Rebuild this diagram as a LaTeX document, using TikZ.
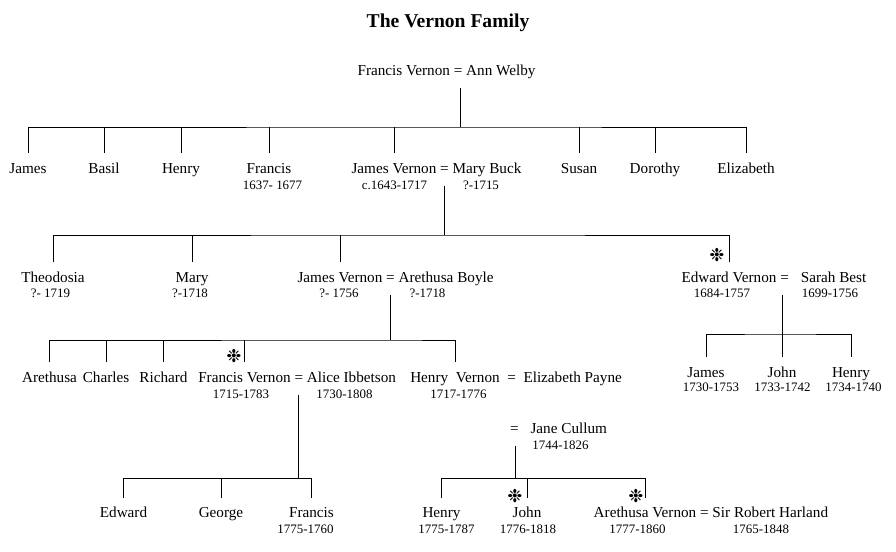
\documentclass[tikz,border=0pt]{standalone}
\usepackage{fontspec}
\setmainfont{Liberation Serif}
\newfontfamily\symfont{DejaVu Sans}
\usepackage{tikz}
\usetikzlibrary{positioning}

\begin{document}
\begin{tikzpicture}[
x=0.75pt,y=-0.75pt,
person/.style={font=\fontsize{11.4}{13}\selectfont,inner sep=0pt,outer xsep=0pt,outer ysep=7.5pt,text height=7.5pt,text depth=2pt,anchor=base},
spouse/.style={person,anchor=base west},
date/.style={font=\fontsize{9.7}{11}\selectfont,inner sep=0pt,anchor=base},
starmark/.style={font=\symfont\fontsize{13.5}{13.5}\selectfont,inner sep=0pt},
line/.style={line width=0.75pt}
]
\fill[white] (0,0) rectangle (896,551);
\useasboundingbox (0,0) rectangle (896,551);

\node[font=\bfseries\fontsize{14.7}{17}\selectfont,anchor=base] (title) at (448,27) {The Vernon Family};

% first generation
\node[person] (root) at (446.5,75) {Francis Vernon = Ann Welby};

% their children
\node[person] (james1) at (28,173) {James};
\node[person] (basil1) at (104,173) {Basil};
\node[person] (henry1) at (181,173) {Henry};
\node[person] (francis1) at (269,173) {Francis};
\node[person] (jv1) at (394,173) {James Vernon};
\node[person,right=0pt of jv1] (mb1) {\ = Mary Buck};
\node[person] (susan1) at (579,173) {Susan};
\node[person] (dorothy1) at (655,173) {Dorothy};
\node[person] (elizabeth1) at (746,173) {Elizabeth};
\node[date] (francis1d) at (272.5,189) {1637- 1677};
\node[date] (jv1d) at (394.5,189) {c.1643-1717};
\node[date] (mb1d) at (481,189) {?-1715};

% children of James and Mary
\node[person] (theodosia2) at (53,282) {Theodosia};
\node[person] (mary2) at (192,282) {Mary};
\node[person] (jv2) at (340,282) {James Vernon};
\node[person,right=0pt of jv2] (ab2) {\ = Arethusa Boyle};
\node[person] (ev2) at (729,282) {Edward Vernon};
\node[person,right=0pt of ev2] (sb2) {\ =\hspace{9pt}Sarah Best};
\node[date] (theodosia2d) at (50.5,297) {?- 1719};
\node[date] (mary2d) at (190,297) {?-1718};
\node[date] (jv2d) at (339,297) {?- 1756};
\node[date] (ab2d) at (427.5,297) {?-1718};
\node[date] (ev2d) at (722,297) {1684-1757};
\node[date] (sb2d) at (830,297) {1699-1756};
\node[starmark] (st1) at (717,255) {❉};

% children of James and Arethusa
\node[person] (arethusa3) at (49.5,382) {Arethusa};
\node[person] (charles3) at (106,382) {Charles};
\node[person] (richard3) at (163.5,382) {Richard};
\node[person] (fv3) at (244.5,382) {Francis Vernon};
\node[person,right=0pt of fv3] (ai3) {\ = Alice Ibbetson};
\node[person] (hv3) at (455,382) {Henry\ \ Vernon};
\node[person,right=0pt of hv3] (ep3) {\ \ =\ \ Elizabeth Payne};
\node[date] (fv3d) at (241,398) {1715-1783};
\node[date] (ai3d) at (344.5,398) {1730-1808};
\node[date] (hv3d) at (458.5,398) {1717-1776};
\node[starmark] (st2) at (234,356) {❉};

% children of Edward and Sarah
\node[person] (james4) at (706,377) {James};
\node[person] (john4) at (782,377) {John};
\node[person] (henry4) at (851,377) {Henry};
\node[date] (james4d) at (711,391) {1730-1753};
\node[date] (john4d) at (782.5,391) {1733-1742};
\node[date] (henry4d) at (853.5,391) {1734-1740};

% Henry's second wife
\node[spouse] (jc) at (510,433) {=\hspace{9pt}Jane Cullum};
\node[date] (jcd) at (560.5,449) {1744-1826};

% children of Francis and Alice
\node[person] (edward5) at (123.5,517.5) {Edward};
\node[person] (george5) at (221,517.5) {George};
\node[person] (francis5) at (311.5,517.5) {Francis};
\node[date] (francis5d) at (305.5,533) {1775-1760};

% children of Henry and Jane
\node[person] (henry6) at (441.5,517.5) {Henry};
\node[person] (john6) at (527,517.5) {John};
\node[person] (av6) at (645,517.5) {Arethusa Vernon};
\node[person,right=0pt of av6] (rh6) {\ = Sir Robert Harland};
\node[date] (henry6d) at (446.5,533) {1775-1787};
\node[date] (john6d) at (528,533) {1776-1818};
\node[date] (av6d) at (637.5,533) {1777-1860};
\node[date] (rh6d) at (761,533) {1765-1848};
\node[starmark] (st3) at (515,496) {❉};
\node[starmark] (st4) at (636,496) {❉};

% junctions on the bars
\coordinate (j1) at (460,127);
\coordinate (j2) at (444,235);
\coordinate (j3) at (390,340);
\coordinate (j4) at (782,334);
\coordinate (j5) at (298,478);
\coordinate (j6) at (515,478);

% family 1
\draw[line] (root.south -| j1) -- (j1);
\draw[line] (james1.north) |- (j1) -| (elizabeth1.north);
\draw[line] (basil1.north) -- (basil1.north |- j1);
\draw[line] (henry1.north) -- (henry1.north |- j1);
\draw[line] (francis1.north) -- (francis1.north |- j1);
\draw[line] (jv1.north) -- (jv1.north |- j1);
\draw[line] (susan1.north) -- (susan1.north |- j1);
\draw[line] (dorothy1.north) -- (dorothy1.north |- j1);

% family 2
\draw[line] (mb1.south -| j2) -- (j2);
\draw[line] (theodosia2.north) |- (j2) -| (ev2.north);
\draw[line] (mary2.north) -- (mary2.north |- j2);
\draw[line] (jv2.north) -- (jv2.north |- j2);

% family 3
\draw[line] (ab2.south -| j3) -- (j3);
\draw[line] (arethusa3.north) |- (j3) -| (hv3.north);
\draw[line] (charles3.north) -- (charles3.north |- j3);
\draw[line] (richard3.north) -- (richard3.north |- j3);
\draw[line] (fv3.north) -- (fv3.north |- j3);

% family 4
\draw[line] (sb2.south -| j4) -- (j4);
\draw[line] (james4.north) |- (j4) -| (henry4.north);
\draw[line] (john4.north) -- (john4.north |- j4);

% family 5
\draw[line] (ai3.south -| j5) -- (j5);
\draw[line] (edward5.north) |- (j5) -| (francis5.north);
\draw[line] (george5.north) -- (george5.north |- j5);

% family 6
\draw[line] (jc.south -| j6) -- (j6);
\draw[line] (henry6.north) |- (j6) -| (av6.north);
\draw[line] (john6.north) -- (john6.north |- j6);
\end{tikzpicture}
\end{document}
